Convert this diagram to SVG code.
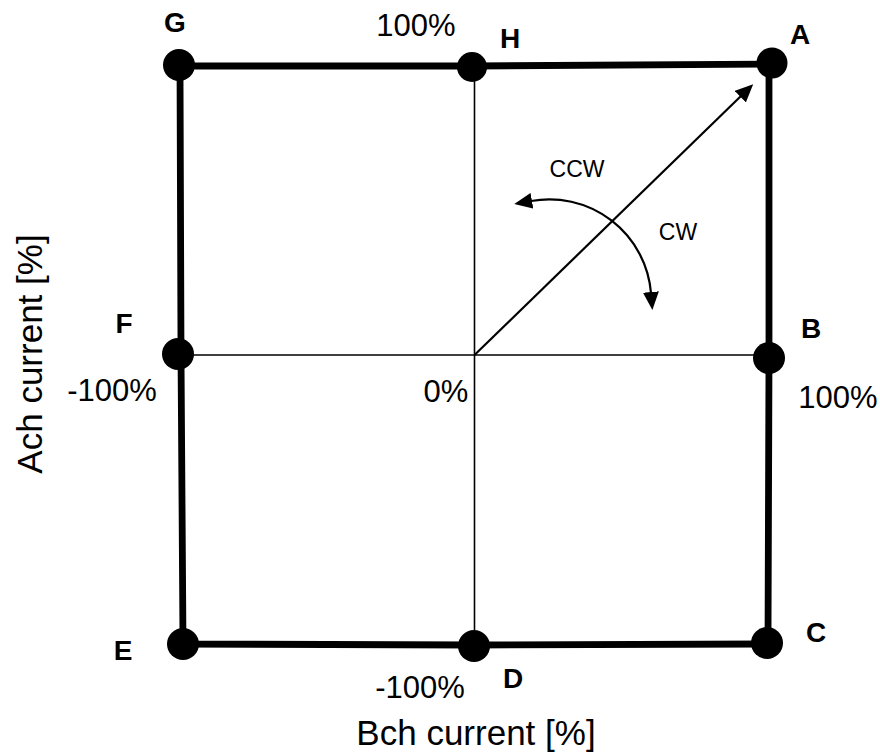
<svg xmlns="http://www.w3.org/2000/svg" width="880" height="754" viewBox="0 0 880 754">
<style>
.dot{fill:#000}
.lbl{font-family:"Liberation Sans",Arial,sans-serif;font-weight:bold;font-size:28px;fill:#000;text-anchor:middle}
.pct{font-family:"Liberation Sans",Arial,sans-serif;font-size:31px;fill:#000;text-anchor:middle}
.axis{font-family:"Liberation Sans",Arial,sans-serif;font-size:35px;fill:#000;text-anchor:middle}
.rot{font-family:"Liberation Sans",Arial,sans-serif;font-size:23px;fill:#000;text-anchor:middle}
.box{fill:none;stroke:#000;stroke-width:6.8}
.thin{fill:none;stroke:#000;stroke-width:1.6}
.arr{fill:none;stroke:#000;stroke-width:2.2}
</style>
<defs>
<marker id="ah" markerUnits="userSpaceOnUse" markerWidth="20" markerHeight="16" refX="1" refY="8" orient="auto-start-reverse" viewBox="0 0 20 16">
<path d="M0,0 L18,8 L0,16 z" fill="#000"/>
</marker>
</defs>
<rect width="880" height="754" fill="#fff"/>
<g id="connectors">
<path class="box" d="M180,66 L474,66 L769,64 L769,358 L768,644 L474,645 L183,644 L181,354 Z"/>
<line class="thin" x1="474.5" y1="66" x2="474.5" y2="645"/>
<line class="thin" x1="180" y1="355" x2="769" y2="355"/>
<line class="arr" x1="474.5" y1="355" x2="741" y2="96" marker-end="url(#ah)"/>
<path class="arr" d="M531,201 A102,102 0 0 1 651,293" marker-start="url(#ah)" marker-end="url(#ah)"/>
</g>
<g id="node-G"><circle class="dot" cx="179" cy="65" r="16"/><text class="lbl" x="175" y="32">G</text></g>
<g id="node-H"><circle class="dot" cx="472" cy="67" r="15"/><text class="lbl" x="510" y="48">H</text></g>
<g id="node-A"><circle class="dot" cx="772" cy="63" r="15.5"/><text class="lbl" x="800" y="44">A</text></g>
<g id="node-F"><circle class="dot" cx="178" cy="354" r="16"/><text class="lbl" x="124" y="333">F</text></g>
<g id="node-B"><circle class="dot" cx="769" cy="358" r="16"/><text class="lbl" x="811" y="338">B</text></g>
<g id="node-E"><circle class="dot" cx="183" cy="644" r="16"/><text class="lbl" x="123" y="660">E</text></g>
<g id="node-D"><circle class="dot" cx="474" cy="646" r="16"/><text class="lbl" x="513" y="688">D</text></g>
<g id="node-C"><circle class="dot" cx="767" cy="643" r="16"/><text class="lbl" x="816" y="642">C</text></g>
<g id="labels">
<text class="pct" x="416" y="36">100%</text>
<text class="pct" x="112" y="401">-100%</text>
<text class="pct" x="446" y="402">0%</text>
<text class="pct" x="838" y="408">100%</text>
<text class="pct" x="420" y="698">-100%</text>
<text class="rot" x="577" y="177">CCW</text>
<text class="rot" x="678" y="240">CW</text>
<text class="axis" x="476" y="745">Bch current [%]</text>
<text class="axis" transform="translate(42,354) rotate(-90)" x="0" y="0">Ach current [%]</text>
</g>
</svg>
